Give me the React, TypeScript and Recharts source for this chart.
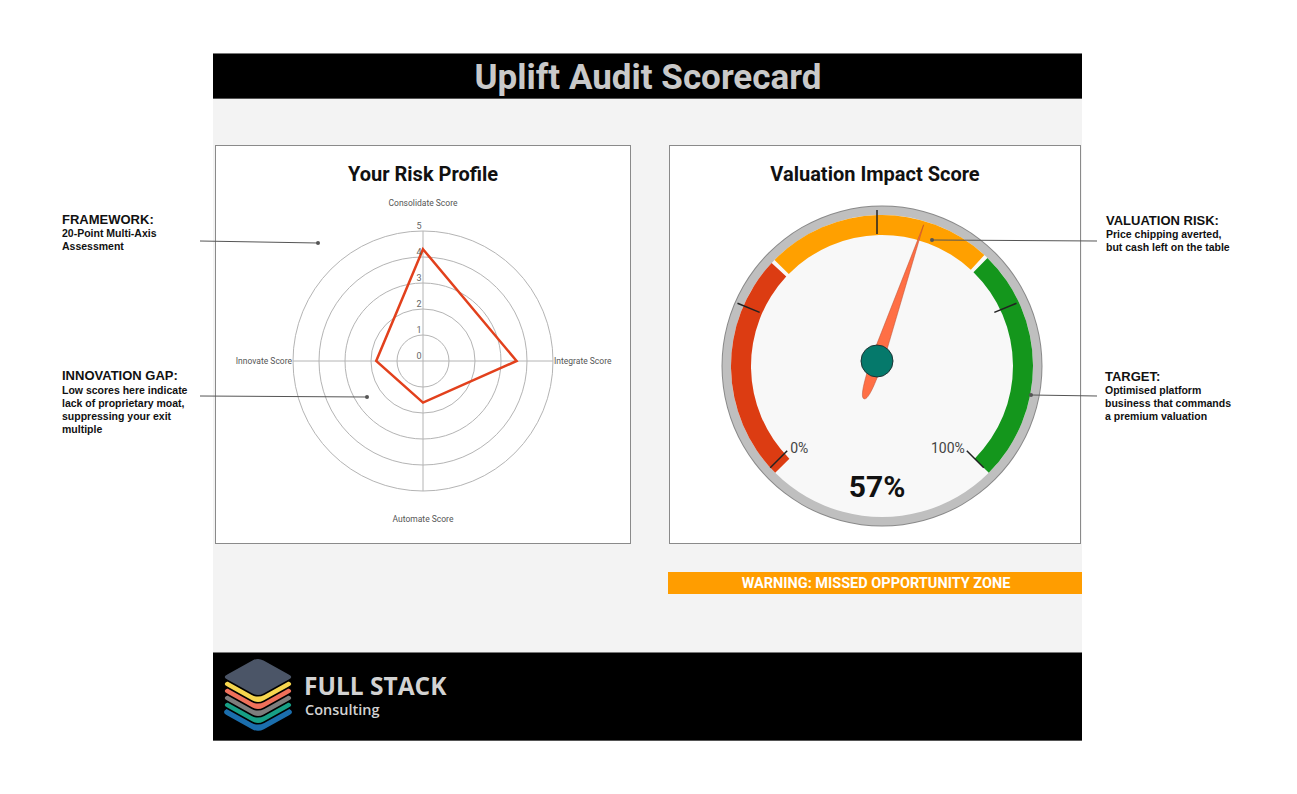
import React from 'react';
import { RadarChart, Radar, PolarGrid, PolarAngleAxis, PolarRadiusAxis, PieChart, Pie, Cell } from 'recharts';

const radarAxes = ['Consolidate Score', 'Integrate Score', 'Automate Score', 'Innovate Score'];
const radarScores = [4.3, 3.6, 1.6, 1.8];
const radarTicks = [0, 1, 2, 3, 4, 5];

const zoneNames = ['Value at risk', 'Missed opportunity', 'Optimised'];
const zoneSizes = [33, 33, 34];
const zoneColors = ['#dc3c12', '#ffa000', '#14961c'];
const gaugeTicks = [0, 25, 50, 75, 100];
const gaugeTickLabels = [0, 100];
const gaugeValue = 57;

const radarData = radarAxes.map((axis, i) => ({ axis, score: radarScores[i] }));
const zoneData = zoneNames.map((name, i) => ({ name, value: zoneSizes[i] }));

const FONT = 'Roboto, "Noto Sans", sans-serif';
const ARIAL = '"Liberation Sans", Arial, sans-serif';
const OPEN = '"Open Sans", "Noto Sans", sans-serif';

// radar geometry, relative to its panel
const R_CX = 208;
const R_CY = 216;
const R_OUT = 130;

// gauge geometry, relative to its panel
const G_CX = 208;
const G_CY = 216;
const G_START = 225;
const G_END = -45;

const toAngle = (v: number) => G_START + (G_END - G_START) * (v / 100);
const polar = (r: number, deg: number) => {
  const a = (deg * Math.PI) / 180;
  return { x: G_CX + r * Math.cos(a), y: G_CY - r * Math.sin(a) };
};

const AngleTick = ({ payload }: any) => {
  const a = (payload.coordinate * Math.PI) / 180;
  const c = Math.cos(a);
  const s = Math.sin(a);
  const side = Math.abs(c) > 0.5;
  const r = side ? R_OUT + 1 : R_OUT + 28;
  return (
    <text
      x={R_CX + r * c}
      y={R_CY - r * s + 3}
      textAnchor={side ? (c > 0 ? 'start' : 'end') : 'middle'}
      fontSize={8.5}
      fill="#555"
      fontFamily={FONT}
    >
      {payload.value}
    </text>
  );
};

const RadiusTick = ({ x, y, payload }: any) => (
  <text x={x - 4} y={y - 2} textAnchor="middle" fontSize={9} fill="#666" fontFamily={FONT}>
    {payload.value}
  </text>
);

// ticks, needle, hub and readout, drawn over the pie
const GaugeMarks = () => {
  const a = (toAngle(gaugeValue) * Math.PI) / 180;
  const u = { x: Math.cos(a), y: -Math.sin(a) };
  const n = { x: -u.y, y: u.x };
  const P = (t: number, s: number) => `${G_CX + u.x * t + n.x * s},${G_CY + u.y * t + n.y * s}`;
  const needle = `M${P(144, 0)} L${P(8, 6)} C${P(-18, 6)} ${P(-40, 5)} ${P(-40, 0)} C${P(-40, -5)} ${P(-18, -6)} ${P(8, -6)} Z`;
  return (
    <svg width={412} height={399} style={{ position: 'absolute', left: 0, top: 0 }}>
      {gaugeTicks.map((v) => {
        const p1 = polar(127, toAngle(v));
        const p2 = polar(151, toAngle(v));
        return <line key={v} x1={p1.x} y1={p1.y} x2={p2.x} y2={p2.y} stroke="#222" strokeWidth={1.5} />;
      })}
      {gaugeTickLabels.map((v, i) => {
        const p = polar(127, toAngle(v));
        const first = i === 0;
        return (
          <text key={v} x={p.x + (first ? 3 : -2)} y={p.y + 2} textAnchor={first ? 'start' : 'end'} fontSize={14} fill="#444" fontFamily={FONT}>
            {v}%
          </text>
        );
      })}
      <path d={needle} fill="#ff6f45" stroke="#b84a2c" strokeWidth={0.5} />
      <circle cx={G_CX} cy={G_CY} r={16} fill="#05796b" stroke="#1d3535" strokeWidth={1} />
      <text x={G_CX} y={G_CY + 136} textAnchor="middle" fontSize={30} fontWeight={700} fill="#111" fontFamily={FONT}>
        {gaugeValue}%
      </text>
    </svg>
  );
};

const diamond = (cx: number, cy: number, hw: number, hh: number, f = 0.16) => {
  const T = [cx, cy - hh];
  const Rt = [cx + hw, cy];
  const B = [cx, cy + hh];
  const L = [cx - hw, cy];
  const lerp = (p: number[], q: number[]) => `${p[0] + (q[0] - p[0]) * f},${p[1] + (q[1] - p[1]) * f}`;
  return `M${lerp(T, L)} Q${T.join(',')} ${lerp(T, Rt)} L${lerp(Rt, T)} Q${Rt.join(',')} ${lerp(Rt, B)} L${lerp(B, Rt)} Q${B.join(',')} ${lerp(B, L)} L${lerp(L, B)} Q${L.join(',')} ${lerp(L, T)} Z`;
};

const logoLayers = ['#1b6ead', '#17a086', '#7d7d7d', '#f0705a', '#f6d64e', '#4b5567'];

const panel: React.CSSProperties = {
  position: 'absolute',
  top: 145,
  height: 399,
  boxSizing: 'border-box',
  border: '1px solid #8a8a8a',
  background: '#fff',
};

export default function App() {
  return (
    <div style={{ position: 'absolute', left: 0, top: 0, width: 1297, height: 794, background: '#fff', fontFamily: FONT }}>
      <div style={{ position: 'absolute', left: 213, top: 53, width: 869, height: 688, background: '#f3f3f3' }} />
      <div style={{ position: 'absolute', left: 213, top: 53, width: 869, height: 46, background: '#000', boxSizing: 'border-box', borderTop: '1px solid #777', borderBottom: '1px solid #555' }} />
      <div style={{ position: 'absolute', left: 213, top: 652, width: 869, height: 89, background: '#000', boxSizing: 'border-box', borderTop: '1px solid #777', borderBottom: '1px solid #555' }} />

      <div style={{ ...panel, left: 215, width: 416 }}>
        <div style={{ position: 'absolute', left: -1, top: -1 }}>
          <RadarChart width={416} height={399} cx={R_CX} cy={R_CY} outerRadius={R_OUT} data={radarData}>
            <PolarGrid gridType="circle" stroke="#b4b4b4" />
            <PolarAngleAxis dataKey="axis" tick={<AngleTick />} tickLine={false} axisLine={false} />
            <PolarRadiusAxis angle={90} domain={[0, 5]} ticks={radarTicks as any} tickCount={6} axisLine={false} tickLine={false} tick={<RadiusTick />} />
            <Radar dataKey="score" stroke="#e2401c" strokeWidth={2.5} fill="none" fillOpacity={0} dot={false} isAnimationActive={false} />
          </RadarChart>
        </div>
      </div>

      <div style={{ ...panel, left: 669, width: 412 }}>
        <div style={{ position: 'absolute', left: -1, top: -1, width: 412, height: 399 }}>
          <PieChart width={412} height={399}>
            <Pie data={[{ v: 1 }]} dataKey="v" cx={G_CX} cy={G_CY} innerRadius={0} outerRadius={160.5} startAngle={0} endAngle={360} fill="#8a8a8a" stroke="none" isAnimationActive={false} />
            <Pie data={[{ v: 1 }]} dataKey="v" cx={G_CX} cy={G_CY} innerRadius={0} outerRadius={159.5} startAngle={0} endAngle={360} fill="#bfbfbf" stroke="none" isAnimationActive={false} />
            <Pie data={[{ v: 1 }]} dataKey="v" cx={G_CX} cy={G_CY} innerRadius={0} outerRadius={151} startAngle={0} endAngle={360} fill="#f8f8f8" stroke="none" isAnimationActive={false} />
            <Pie data={zoneData} dataKey="value" cx={G_CX} cy={G_CY} innerRadius={131} outerRadius={151} startAngle={G_START} endAngle={G_END} paddingAngle={1.6} stroke="none" isAnimationActive={false}>
              {zoneData.map((z, i) => (
                <Cell key={z.name} fill={zoneColors[i]} />
              ))}
            </Pie>
          </PieChart>
          <GaugeMarks />
        </div>
      </div>

      <div style={{ position: 'absolute', left: 668, top: 572, width: 414, height: 22, background: '#ff9d00' }} />

      <svg width={1297} height={794} style={{ position: 'absolute', left: 0, top: 0, pointerEvents: 'none' }}>
        <text x={648} y={89} textAnchor="middle" fontSize={35} fontWeight={700} fill="#c9c9c9" fontFamily={FONT}>Uplift Audit Scorecard</text>
        <text x={423} y={181} textAnchor="middle" fontSize={20} fontWeight={700} fill="#111" fontFamily={FONT}>Your Risk Profile</text>
        <text x={875} y={181} textAnchor="middle" fontSize={20} fontWeight={700} fill="#111" fontFamily={FONT}>Valuation Impact Score</text>
        <text x={876} y={588} textAnchor="middle" fontSize={14.5} fontWeight={700} fill="#fff" fontFamily={FONT}>WARNING: MISSED OPPORTUNITY ZONE</text>

        <g fontFamily={ARIAL} fontWeight={700} fill="#111">
          <text x={62} y={224} fontSize={13}>FRAMEWORK:</text>
          <text x={62} y={237} fontSize={10.5}>20-Point Multi-Axis</text>
          <text x={62} y={250} fontSize={10.5}>Assessment</text>
          <text x={62} y={380} fontSize={13}>INNOVATION GAP:</text>
          <text x={62} y={394} fontSize={10.5}>Low scores here indicate</text>
          <text x={62} y={407} fontSize={10.5}>lack of proprietary moat,</text>
          <text x={62} y={420} fontSize={10.5}>suppressing your exit</text>
          <text x={62} y={433} fontSize={10.5}>multiple</text>
          <text x={1106} y={225} fontSize={13}>VALUATION RISK:</text>
          <text x={1106} y={238} fontSize={10.5}>Price chipping averted,</text>
          <text x={1106} y={251} fontSize={10.5}>but cash left on the table</text>
          <text x={1105} y={381} fontSize={13}>TARGET:</text>
          <text x={1105} y={394} fontSize={10.5}>Optimised platform</text>
          <text x={1105} y={407} fontSize={10.5}>business that commands</text>
          <text x={1105} y={420} fontSize={10.5}>a premium valuation</text>
        </g>

        <g stroke="#555" strokeWidth={1}>
          <line x1={200} y1={241} x2={318} y2={243} />
          <line x1={200} y1={396} x2={367} y2={397} />
          <line x1={932} y1={240} x2={1097} y2={241} />
          <line x1={1031} y1={395} x2={1097} y2={396} />
        </g>
        <g fill="#555">
          <circle cx={318} cy={243} r={2} />
          <circle cx={367} cy={397} r={2} />
          <circle cx={932} cy={240} r={2} />
          <circle cx={1031} cy={395} r={2} />
        </g>

        {logoLayers.map((c, i) => (
          <path key={c} d={diamond(258, 712 - i * 7, 37, 20.5)} fill={c} stroke="#000" strokeWidth={i === 0 ? 0 : 1.5} />
        ))}
        <text x={304} y={695} fontSize={24.5} fontWeight={700} fill="#d2d2d2" fontFamily={OPEN}>FULL STACK</text>
        <text x={305} y={715} fontSize={14.5} fontWeight={600} fill="#d2d2d2" fontFamily={OPEN}>Consulting</text>
      </svg>
    </div>
  );
}
